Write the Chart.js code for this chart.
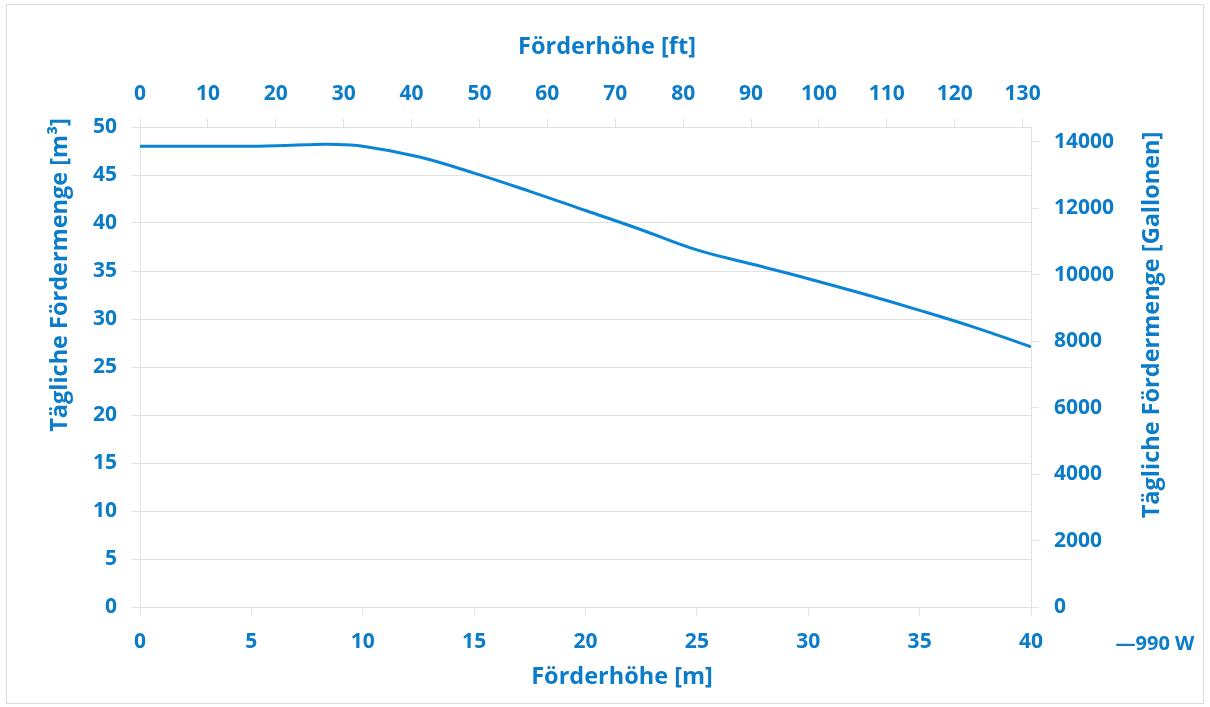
<!DOCTYPE html>
<html>
<head>
<meta charset="utf-8">
<script src="https://cdn.jsdelivr.net/npm/chart.js@4/dist/chart.umd.min.js"></script>
<style>
  body { margin: 0; background: #fff; font-family: "Open Sans", sans-serif; }
  #wrap { position: relative; width: 1210px; height: 707px; }
  #frame { position: absolute; left: 6px; top: 4px; width: 1196px; height: 698px; border: 1px solid #dcdcdc; pointer-events: none; }
  .ttl { position: absolute; color: #0b7cc9; font-weight: 700; font-size: 23.5px; white-space: nowrap; }
  .rot { transform: translate(-50%, -50%) rotate(-90deg); }
  .hz { transform: translate(-50%, -50%); }
</style>
</head>
<body>
<div id="wrap">
  <canvas id="pumpChart" width="1210" height="707"></canvas>
  <div id="frame"></div>
  <div class="ttl hz" style="left:607px; top:45px;">Förderhöhe [ft]</div>
  <div class="ttl hz" style="left:622px; top:675px;">Förderhöhe [m]</div>
  <div class="ttl rot" style="left:58px; top:275px;">Tägliche Fördermenge [m³]</div>
  <div class="ttl rot" style="left:1150px; top:325px;">Tägliche Fördermenge [Gallonen]</div>
  <div class="ttl hz" style="left:1155px; top:642px; font-size:20px;">—990 W</div>
</div>
<script>
// head in metres, daily flow in m³ (990 W pump)
const headM = [0, 2.5, 5, 7.5, 8.5, 10, 12.5, 15, 17.5, 20, 22.5, 25, 27.5, 30, 32.5, 35, 37.5, 40];
const flowM3 = [48.0, 48.0, 48.0, 48.15, 48.2, 48.0, 46.9, 45.2, 43.3, 41.3, 39.3, 37.2, 35.7, 34.2, 32.6, 30.9, 29.1, 27.1];
const seriesName = '990 W';

// secondary axes
const ftTicks = [0, 10, 20, 30, 40, 50, 60, 70, 80, 90, 100, 110, 120, 130];
const galTicks = [0, 2000, 4000, 6000, 8000, 10000, 12000, 14000];

const blue = '#0b7cc9';
const lineBlue = '#0a85d6';
const gridGrey = '#e2e2e2';
const tickFont = { family: 'Open Sans', size: 21, weight: '700' };

function fixSize(prop, val) {
  return function(scale) { scale[prop] = val; };
}
function setTicks(list) {
  return function(scale) { scale.ticks = list.map(v => ({ value: v })); };
}
const plain = v => String(v);

const ctx = document.getElementById('pumpChart').getContext('2d');
new Chart(ctx, {
  type: 'line',
  data: {
    datasets: [{
      label: seriesName,
      data: headM.map((h, i) => ({ x: h, y: flowM3[i] })),
      borderColor: lineBlue,
      borderWidth: 3,
      pointRadius: 0,
      tension: 0.4,
      xAxisID: 'x',
      yAxisID: 'y'
    }]
  },
  options: {
    responsive: false,
    animation: false,
    layout: { padding: 0 },
    plugins: { legend: { display: false }, tooltip: { enabled: false } },
    scales: {
      x: {
        type: 'linear', position: 'bottom', min: 0, max: 40,
        ticks: { stepSize: 5, color: blue, font: tickFont, padding: 14, maxRotation: 0, callback: plain },
        grid: { drawOnChartArea: false, tickLength: 8, color: gridGrey },
        border: { color: gridGrey },
        afterFit: fixSize('height', 100)
      },
      x2: {
        type: 'linear', position: 'top', min: 0, max: 40 * 3.28084,
        afterBuildTicks: setTicks(ftTicks),
        ticks: { color: blue, font: tickFont, padding: 12, maxRotation: 0, autoSkip: false, callback: plain },
        grid: { drawOnChartArea: false, tickLength: 8, color: gridGrey },
        border: { color: gridGrey },
        afterFit: fixSize('height', 127)
      },
      y: {
        type: 'linear', position: 'left', min: 0, max: 50,
        ticks: { stepSize: 5, color: blue, font: tickFont, padding: 15, callback: plain },
        grid: { tickLength: 8, color: gridGrey },
        border: { color: gridGrey },
        afterFit: fixSize('width', 140)
      },
      y2: {
        type: 'linear', position: 'right', min: 0, max: 14450,
        afterBuildTicks: setTicks(galTicks),
        ticks: { color: blue, font: tickFont, padding: 15, autoSkip: false, callback: plain },
        grid: { drawOnChartArea: false, tickLength: 8, color: gridGrey },
        border: { color: gridGrey },
        afterFit: fixSize('width', 179)
      }
    }
  }
});
</script>
</body>
</html>
